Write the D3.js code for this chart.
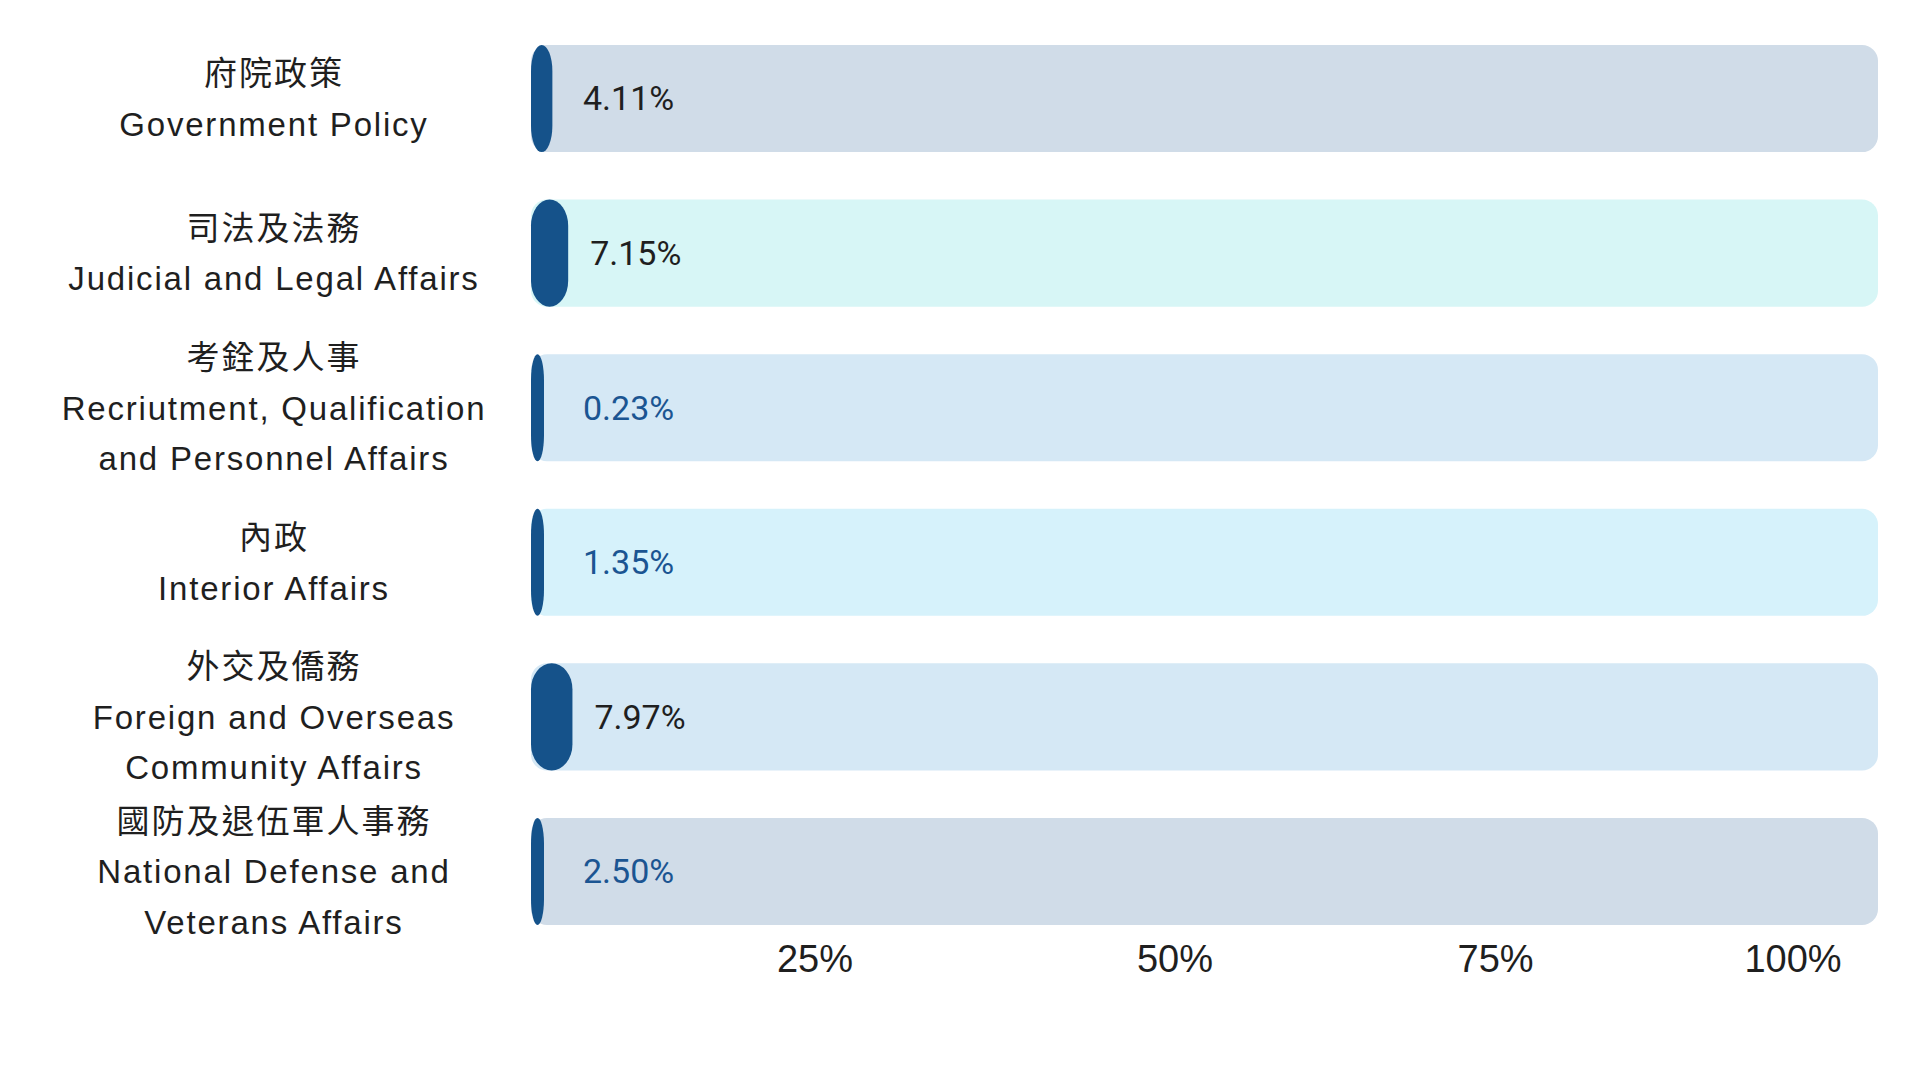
<!DOCTYPE html>
<html>
<head>
<meta charset="utf-8">
<script src="https://cdn.jsdelivr.net/npm/d3@7"></script>
<style>
  html, body { margin: 0; padding: 0; background: #ffffff; }
  svg { display: block; }
</style>
</head>
<body>
<svg id="chart" width="1920" height="1080"></svg>
<script>
// ---- data ----
const categories = ["gov", "judicial", "personnel", "interior", "foreign", "defense"];
const labelsZh = ["府院政策", "司法及法務", "考銓及人事", "內政", "外交及僑務", "國防及退伍軍人事務"];
const labelsEn = [
  ["Government Policy"],
  ["Judicial and Legal Affairs"],
  ["Recriutment, Qualification", "and Personnel Affairs"],
  ["Interior Affairs"],
  ["Foreign and Overseas", "Community Affairs"],
  ["National Defense and", "Veterans Affairs"]
];
const values = [4.11, 7.15, 0.23, 1.35, 7.97, 2.50];
const tickValues = [25, 50, 75, 100];
const tickLabels = ["25%", "50%", "75%", "100%"];

// ---- styles ----
const trackColors = ["#d0dce8", "#d7f6f6", "#d5e8f5", "#d6f2fb", "#d5e8f5", "#d0dce8"];
const pillColor = "#15528a";
const darkText = "#1f1f1f";
const blueText = "#1b5592";

const svg = d3.select("#chart");

const trackLeft = 531, trackRight = 1878;
const y = d3.scaleBand().domain(categories).range([45, 925]).paddingInner(0.307).paddingOuter(0);
const trackColor = d3.scaleOrdinal().domain(categories).range(trackColors);
const pillW = d3.scaleLinear().domain([0, 100]).range([0, 520]);
const minPill = 13;
const xTicks = d3.scalePow().exponent(0.78).domain([25, 100]).range([815, 1793]);

const rows = svg.append("g").selectAll("g.row")
  .data(categories.map((c, i) => ({ c, i, v: values[i], zh: labelsZh[i], en: labelsEn[i] })))
  .join("g").attr("class", "row");

// tracks
rows.append("rect")
  .attr("x", trackLeft)
  .attr("y", d => y(d.c))
  .attr("width", trackRight - trackLeft)
  .attr("height", y.bandwidth())
  .attr("rx", 16).attr("ry", 16)
  .attr("fill", d => trackColor(d.c));

// value pills
rows.append("rect")
  .attr("x", trackLeft)
  .attr("y", d => y(d.c))
  .attr("width", d => Math.max(minPill, pillW(d.v)))
  .attr("height", y.bandwidth())
  .attr("rx", d => Math.max(minPill, pillW(d.v)) / 2)
  .attr("ry", 26)
  .attr("fill", pillColor);

// value labels
rows.append("text")
  .attr("x", d => Math.max(trackLeft + 52, trackLeft + Math.max(minPill, pillW(d.v)) + 22))
  .attr("y", d => y(d.c) + y.bandwidth() / 2)
  .attr("dy", "0.35em")
  .attr("font-family", "Roboto, 'Liberation Sans', sans-serif")
  .attr("font-size", 34)
  .attr("fill", d => d.v >= 3 ? darkText : blueText)
  .text(d => d.v.toFixed(2) + "%");

// category labels
const labelX = 273, lineStep = 50.5;
rows.each(function (d) {
  const g = d3.select(this);
  const lines = [{ t: d.zh, zh: true }].concat(d.en.map(t => ({ t, zh: false })));
  const mid = y(d.c) + y.bandwidth() / 2 + 12;
  const first = mid - (lines.length - 1) * lineStep / 2;
  g.selectAll("text.cat").data(lines).join("text")
    .attr("class", "cat")
    .attr("x", labelX + 1)
    .attr("y", (l, k) => first + k * lineStep)
    .attr("text-anchor", "middle")
    .attr("font-family", l => l.zh ? "'Noto Sans CJK TC', 'Noto Sans CJK SC', sans-serif" : "'Liberation Sans', Arial, sans-serif")
    .attr("font-size", 33)
    .attr("letter-spacing", l => l.zh ? 2 : 1.8)
    .attr("fill", darkText)
    .text(l => l.t);
});

// x tick labels
svg.append("g").selectAll("text.tick")
  .data(tickValues)
  .join("text")
  .attr("class", "tick")
  .attr("x", d => xTicks(d))
  .attr("y", 971.5)
  .attr("text-anchor", "middle")
  .attr("font-family", "'Liberation Sans', Arial, sans-serif")
  .attr("font-size", 38)
  .attr("fill", darkText)
  .text((d, i) => tickLabels[i]);
</script>
</body>
</html>
